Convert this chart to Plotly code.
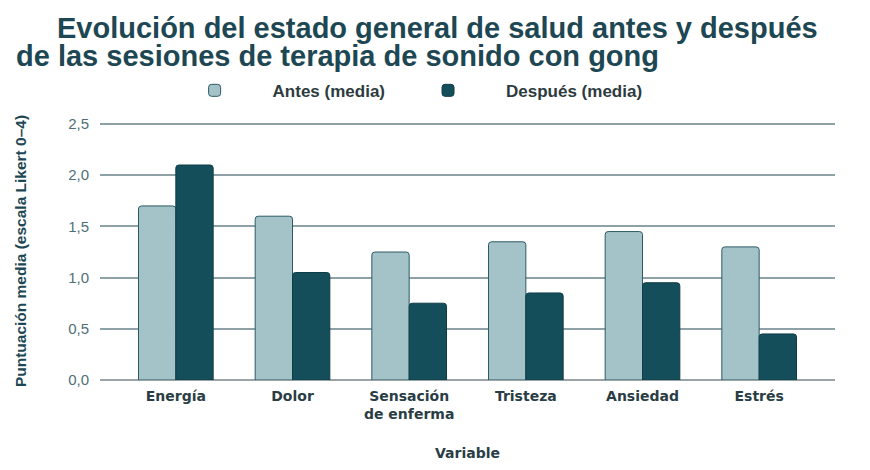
import plotly.graph_objects as go

# datos
variables = ["Energía", "Dolor", "Sensación<br>de enferma", "Tristeza", "Ansiedad", "Estrés"]
antes = [1.7, 1.6, 1.25, 1.35, 1.45, 1.3]
despues = [2.1, 1.05, 0.75, 0.85, 0.95, 0.45]
yticks = [0, 0.5, 1.0, 1.5, 2.0, 2.5]

titulo_1 = "Evolución del estado general de salud antes y después"
titulo_2 = "de las sesiones de terapia de sonido con gong"

c_antes = "#a4c3c8"
c_despues = "#154e5b"
c_texto = "#1d4753"

fig = go.Figure()
fig.add_trace(go.Bar(x=variables, y=antes, name="Antes (media)",
                     marker=dict(color=c_antes, line=dict(color="#2c5a64", width=1), cornerradius=3)))
fig.add_trace(go.Bar(x=variables, y=despues, name="Después (media)",
                     marker=dict(color=c_despues, line=dict(color="#0f3d47", width=1), cornerradius=3)))

# la pagina tiene 8px de margen en el body
fig.update_layout(
    width=870, height=470,
    margin=dict(l=92, r=43, t=114, b=98, autoexpand=False),
    paper_bgcolor="white", plot_bgcolor="white",
    separators=",.",
    barmode="group", bargap=0.36, bargroupgap=0,
    font=dict(family="Liberation Sans, Arial, sans-serif", color=c_texto),
    showlegend=True,
    legend=dict(orientation="h", x=0.077, xanchor="left", y=1.121, yanchor="middle",
                font=dict(size=17, color="#2d3b40", weight="bold"), itemwidth=106,
                traceorder="normal"),
)

fig.add_annotation(text="<b>" + titulo_1 + "</b>", xref="paper", yref="paper",
                   x=-45 / 735, y=1.0, yshift=112, xanchor="left", yanchor="top",
                   showarrow=False, font=dict(size=29, color=c_texto))
fig.add_annotation(text="<b>" + titulo_2 + "</b>", xref="paper", yref="paper",
                   x=-86 / 735, y=1.0, yshift=84, xanchor="left", yanchor="top",
                   showarrow=False, font=dict(size=29, color=c_texto))

fig.update_xaxes(range=[-0.65, 5.65], showgrid=False, showline=False, ticks="",
                 automargin=False, ticklabelstandoff=6,
                 tickfont=dict(family="DejaVu Sans, sans-serif", size=14, color="#2a3d45", weight="bold"),
                 title=dict(text="<b>Variable</b>", standoff=26,
                            font=dict(family="DejaVu Sans, sans-serif", size=14, color="#2a3d45")))
fig.update_yaxes(range=[0, 2.52], tickvals=yticks, tickformat=".1f",
                 showgrid=True, gridcolor="#8da1a6", gridwidth=1.5,
                 zeroline=True, zerolinecolor="#9aa3a6", zerolinewidth=2,
                 showline=False, ticks="", ticklabelstandoff=10, automargin=False,
                 tickfont=dict(size=15, color="#4f6f78"),
                 title=dict(text="<b>Puntuación media (escala Likert 0–4)</b>", standoff=37,
                            font=dict(size=15.5, color=c_texto)))

fig.write_html("out.html")
